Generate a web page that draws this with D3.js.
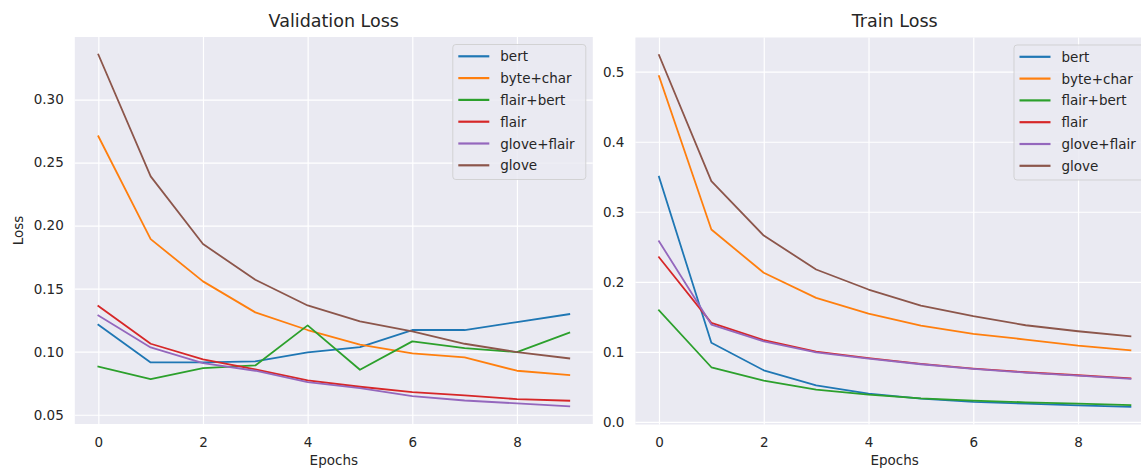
<!DOCTYPE html>
<html>
<head>
<meta charset="utf-8">
<script src="https://cdn.jsdelivr.net/npm/d3@7"></script>
<style>
  html, body { margin: 0; padding: 0; background: #ffffff; }
  svg { display: block; font-family: "DejaVu Sans", sans-serif; }
</style>
</head>
<body>
<svg id="chart" width="1141" height="468"></svg>
<script>
// Epoch index shared by both panels
const epochs = [0, 1, 2, 3, 4, 5, 6, 7, 8, 9];

const seriesNames = ["bert", "byte+char", "flair+bert", "flair", "glove+flair", "glove"];
const seriesColors = ["#1f77b4", "#ff7f0e", "#2ca02c", "#d62728", "#9467bd", "#8c564b"];

// Validation loss per model
const valBert      = [0.1214, 0.0915, 0.0915, 0.0923, 0.0995, 0.1037, 0.1172, 0.1172, 0.1235, 0.1298];
const valByteChar  = [0.2709, 0.1893, 0.1558, 0.1312, 0.1172, 0.1056, 0.0987, 0.0955, 0.0849, 0.0814];
const valFlairBert = [0.0881, 0.0783, 0.0870, 0.0891, 0.1209, 0.0857, 0.1082, 0.1029, 0.0997, 0.1151];
const valFlair     = [0.1362, 0.1063, 0.0939, 0.0860, 0.0772, 0.0722, 0.0680, 0.0653, 0.0624, 0.0611];
const valGloveFlair= [0.1288, 0.1034, 0.0910, 0.0849, 0.0759, 0.0711, 0.0648, 0.0613, 0.0590, 0.0566];
const valGlove     = [0.3357, 0.2391, 0.1854, 0.1571, 0.1367, 0.1240, 0.1161, 0.1063, 0.0997, 0.0947];

// Training loss per model
const trainBert      = [0.3500, 0.1129, 0.0737, 0.0523, 0.0404, 0.0333, 0.0286, 0.0261, 0.0237, 0.0214];
const trainByteChar  = [0.4937, 0.2747, 0.2129, 0.1771, 0.1547, 0.1376, 0.1257, 0.1176, 0.1090, 0.1023];
const trainFlairBert = [0.1594, 0.0780, 0.0590, 0.0461, 0.0390, 0.0337, 0.0304, 0.0280, 0.0261, 0.0240];
const trainFlair     = [0.2351, 0.1414, 0.1166, 0.1004, 0.0909, 0.0829, 0.0761, 0.0709, 0.0666, 0.0623];
const trainGloveFlair= [0.2580, 0.1390, 0.1151, 0.0994, 0.0904, 0.0823, 0.0757, 0.0704, 0.0661, 0.0614];
const trainGlove     = [0.5237, 0.3437, 0.2661, 0.2176, 0.1890, 0.1661, 0.1509, 0.1380, 0.1294, 0.1223];

// Tick values
const xTicks = [0, 2, 4, 6, 8];
const valYTicks = [0.05, 0.10, 0.15, 0.20, 0.25, 0.30];
const trainYTicks = [0.0, 0.1, 0.2, 0.3, 0.4, 0.5];

const svg = d3.select("#chart");
const textColor = "#262626";
const axesBg = "#eaeaf2";

function drawPanel(opts) {
  const { left, right, top, bottom, title, series, yTicks, yFormat, yLabel } = opts;

  // matplotlib-style 5% margins around the data extent
  const allVals = series.flat();
  const [yMin, yMax] = d3.extent(allVals);
  const yPad = (yMax - yMin) * 0.05;
  const [xMin, xMax] = d3.extent(epochs);
  const xPad = (xMax - xMin) * 0.05;

  const x = d3.scaleLinear().domain([xMin - xPad, xMax + xPad]).range([left, right]);
  const y = d3.scaleLinear().domain([yMin - yPad, yMax + yPad]).range([bottom, top]);

  const g = svg.append("g");
  const clipId = "clip-" + title.replace(/\s+/g, "");
  svg.append("clipPath").attr("id", clipId)
    .append("rect").attr("x", left).attr("y", top).attr("width", right - left).attr("height", bottom - top);

  g.append("rect")
    .attr("x", left).attr("y", top)
    .attr("width", right - left).attr("height", bottom - top)
    .attr("fill", axesBg);

  // Grid via axes with full-length ticks
  const xGrid = d3.axisBottom(x).tickValues(xTicks).tickSize(-(bottom - top)).tickFormat("");
  g.append("g").attr("transform", `translate(0,${bottom})`).call(xGrid)
    .call(s => s.select(".domain").remove())
    .call(s => s.selectAll("line").attr("stroke", "#ffffff").attr("stroke-width", 1.2));

  const yGrid = d3.axisLeft(y).tickValues(yTicks).tickSize(-(right - left)).tickFormat("");
  g.append("g").attr("transform", `translate(${left},0)`).call(yGrid)
    .call(s => s.select(".domain").remove())
    .call(s => s.selectAll("line").attr("stroke", "#ffffff").attr("stroke-width", 1.2));

  // Tick labels
  const xAxis = d3.axisBottom(x).tickValues(xTicks).tickSize(0).tickPadding(13).tickFormat(d3.format("d"));
  g.append("g").attr("transform", `translate(0,${bottom})`).call(xAxis)
    .call(s => s.select(".domain").remove())
    .call(s => s.selectAll("text").attr("font-size", "13.5px").attr("fill", textColor)
      .attr("font-family", "DejaVu Sans"));

  const yAxis = d3.axisLeft(y).tickValues(yTicks).tickSize(0).tickPadding(11).tickFormat(d3.format(yFormat));
  g.append("g").attr("transform", `translate(${left},0)`).call(yAxis)
    .call(s => s.select(".domain").remove())
    .call(s => s.selectAll("text").attr("font-size", "13.5px").attr("fill", textColor)
      .attr("font-family", "DejaVu Sans"));

  // Lines
  const line = d3.line().x((d, i) => x(epochs[i])).y(d => y(d));
  const lines = g.append("g").attr("clip-path", `url(#${clipId})`);
  series.forEach((vals, i) => {
    lines.append("path")
      .datum(vals)
      .attr("d", line)
      .attr("fill", "none")
      .attr("stroke", seriesColors[i])
      .attr("stroke-width", 1.8)
      .attr("stroke-linejoin", "round")
      .attr("stroke-linecap", "square");
  });

  // Title and axis labels
  const cx = (left + right) / 2;
  svg.append("text").attr("x", cx).attr("y", 27)
    .attr("text-anchor", "middle").attr("font-size", "17.5px").attr("fill", textColor)
    .text(title);

  svg.append("text").attr("x", cx).attr("y", 465)
    .attr("text-anchor", "middle").attr("font-size", "13.5px").attr("fill", textColor)
    .text("Epochs");

  if (yLabel) {
    svg.append("text")
      .attr("transform", `translate(22.5,${(top + bottom) / 2}) rotate(-90)`)
      .attr("text-anchor", "middle").attr("font-size", "13.5px").attr("fill", textColor)
      .text(yLabel);
  }

  // Legend in upper-right corner
  const boxW = 133, boxH = 135;
  const bx = right - 7 - boxW, by = top + 7.5;
  const leg = svg.append("g");
  leg.append("rect")
    .attr("x", bx).attr("y", by).attr("width", boxW).attr("height", boxH)
    .attr("rx", 3).attr("ry", 3)
    .attr("fill", axesBg).attr("fill-opacity", 0.85)
    .attr("stroke", "#cccccc").attr("stroke-opacity", 0.8).attr("stroke-width", 1);
  seriesNames.forEach((name, i) => {
    const ry = by + 11.8 + i * 21.8;
    leg.append("line")
      .attr("x1", bx + 5.5).attr("x2", bx + 36.5)
      .attr("y1", ry).attr("y2", ry)
      .attr("stroke", seriesColors[i]).attr("stroke-width", 2.2);
    leg.append("text")
      .attr("x", bx + 47.5).attr("y", ry)
      .attr("dominant-baseline", "central")
      .attr("font-size", "13.5px").attr("fill", textColor)
      .text(name);
  });
}

drawPanel({
  left: 74.8, right: 592.8, top: 37, bottom: 424,
  title: "Validation Loss",
  series: [valBert, valByteChar, valFlairBert, valFlair, valGloveFlair, valGlove],
  yTicks: valYTicks, yFormat: ".2f", yLabel: "Loss"
});

drawPanel({
  left: 635.4, right: 1154, top: 37.5, bottom: 424.5,
  title: "Train Loss",
  series: [trainBert, trainByteChar, trainFlairBert, trainFlair, trainGloveFlair, trainGlove],
  yTicks: trainYTicks, yFormat: ".1f", yLabel: null
});
</script>
</body>
</html>
